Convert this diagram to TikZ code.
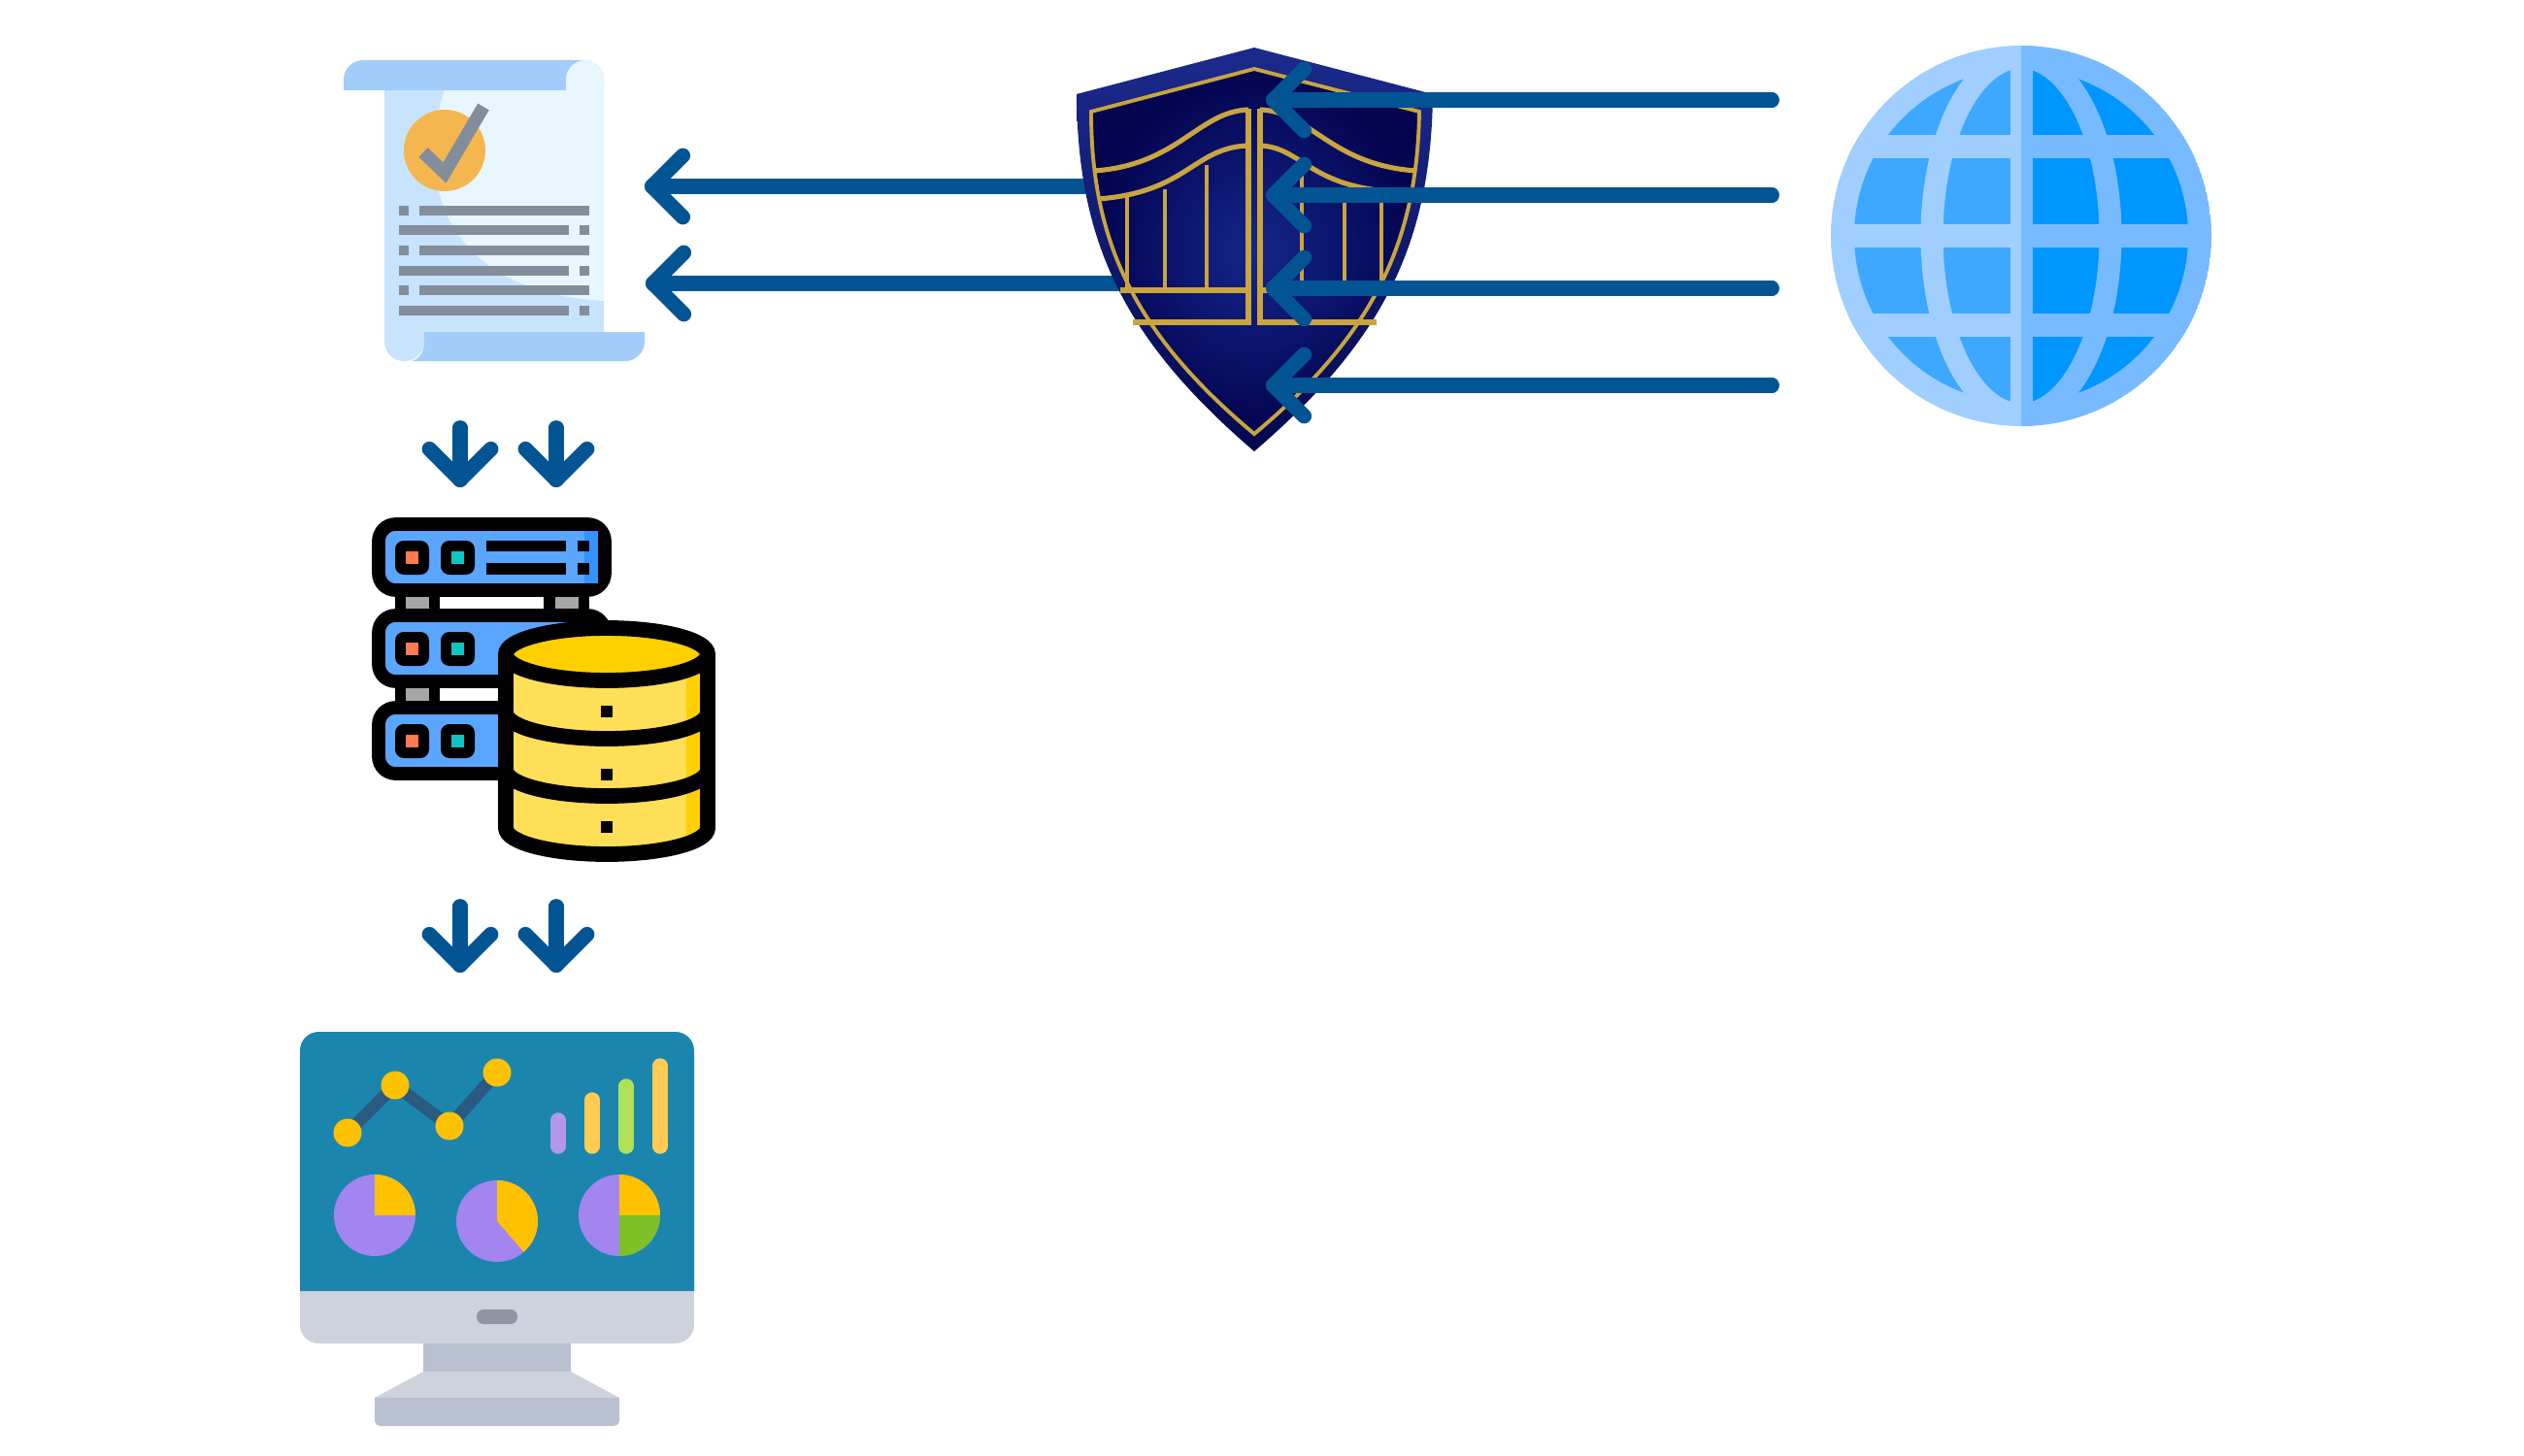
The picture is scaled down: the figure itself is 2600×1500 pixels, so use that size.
\documentclass[tikz,border=0pt]{standalone}
\usetikzlibrary{arrows.meta,calc}

\definecolor{FlowBlue}{HTML}{035493}
\definecolor{DocBand}{HTML}{A2CDFA}
\definecolor{DocBase}{HTML}{C7E3FD}
\definecolor{DocLight}{HTML}{E8F6FF}
\definecolor{DocGrey}{HTML}{838D9C}
\definecolor{DocSeal}{HTML}{F4B74F}
\definecolor{ShieldTop}{HTML}{1B2A8C}
\definecolor{ShieldEnd}{HTML}{05084F}
\definecolor{ShieldMid}{HTML}{14268A}
\definecolor{ShieldDark}{HTML}{03034F}
\definecolor{Gold}{HTML}{C9A53F}
\definecolor{GlobeLeft}{HTML}{A0CFFF}
\definecolor{GlobeRight}{HTML}{78BAFF}
\definecolor{CellLeft}{HTML}{3EA8FF}
\definecolor{CellRight}{HTML}{0096FF}
\definecolor{RackBlue}{HTML}{5AA5FF}
\definecolor{RackEdge}{HTML}{3592FF}
\definecolor{LedRed}{HTML}{FF7A50}
\definecolor{LedTeal}{HTML}{10C4C4}
\definecolor{DiskTop}{HTML}{FFD000}
\definecolor{DiskBody}{HTML}{FFDF58}
\definecolor{Screen}{HTML}{1B85AE}
\definecolor{Bezel}{HTML}{CED2DD}
\definecolor{Stand}{HTML}{B9C0CF}
\definecolor{Knob}{HTML}{8E96A6}
\definecolor{ChartLine}{HTML}{2A5A7F}
\definecolor{ChartYellow}{HTML}{FFC200}
\definecolor{ChartPurple}{HTML}{A385EF}
\definecolor{ChartGreen}{HTML}{7FBF28}
\definecolor{BarPurple}{HTML}{B497EA}
\definecolor{BarYellow}{HTML}{FFCB52}
\definecolor{BarGreen}{HTML}{AEE05A}

\tikzset{
    Flow/.style={draw=FlowBlue, line width=4.4pt, line cap=round,
        -{Straight Barb[length=9pt, width=18pt, line width=4.4pt, round]},
        postaction={draw=FlowBlue, -, shorten >=2.2pt}},
    GoldLine/.style={draw=Gold, line width=1.1pt},
    GoldPost/.style={draw=Gold, line width=1.45pt},
    Rack/.style={draw=black, fill=RackBlue, line width=3.9pt, rounded corners=5pt},
    Disk/.style={draw=black, line width=4.5pt},
    Band/.style={line width=6.55pt},
    Bar/.style={line width=4.4pt, line cap=round},
}

\begin{document}
\begin{tikzpicture}[x=0.01cm, y=-0.01cm]

    \useasboundingbox (0,0) rectangle (2600,1500);

    \coordinate (Gate1) at (1150,192);
    \coordinate (Gate2) at (1150,292);
    \coordinate (Doc1) at (664,192);
    \coordinate (Doc2) at (665,292);
    \coordinate (Web1) at (1825,103);
    \coordinate (Web2) at (1825,201);
    \coordinate (Web3) at (1825,297);
    \coordinate (Web4) at (1825,397);
    \coordinate (In1) at (1304,103);
    \coordinate (In2) at (1304,201);
    \coordinate (In3) at (1304,297);
    \coordinate (In4) at (1304,397);
    \coordinate (DocOut1) at (474,441);
    \coordinate (DocOut2) at (573,441);
    \coordinate (DbIn1) at (474,502);
    \coordinate (DbIn2) at (573,502);
    \coordinate (DbOut1) at (474,934);
    \coordinate (DbOut2) at (573,934);
    \coordinate (ScrIn1) at (474,1002);
    \coordinate (ScrIn2) at (573,1002);

    % document
    \fill[DocBase] (396,80) rectangle (622,345);
    \fill[DocLight] (458,93) .. controls (430,170) and (445,300) .. (622,310) -- (622,93) -- cycle;
    \fill[DocBand] (354,93) [rounded corners=5.7pt] -- (354,62) -- (622,62) [sharp corners] -- (622,93) -- cycle;
    \fill[DocLight] (583,93) [rounded corners=5.7pt] -- (583,62) -- (622,62) [sharp corners] -- (622,93) -- cycle;
    \fill[DocBase] (396,342) [rounded corners=5.7pt] -- (396,372) -- (437,372) [sharp corners] -- (437,342) -- cycle;
    \fill[DocBand] (437,342) -- (664,342) [rounded corners=5.7pt] -- (664,372) [sharp corners] -- (424,372) .. controls (432,370) and (437,362) .. (437,352) -- cycle;
    \fill[DocSeal] (458,155) circle (42);
    \draw[DocGrey, line width=3.8pt] (436,157) -- (458,178) -- (498,110);

    \fill[DocGrey] (411,212) rectangle (421,222);
    \fill[DocGrey] (432,212) rectangle (607,222);
    \fill[DocGrey] (411,232) rectangle (586,242);
    \fill[DocGrey] (597,232) rectangle (607,242);
    \fill[DocGrey] (411,253) rectangle (421,263);
    \fill[DocGrey] (432,253) rectangle (607,263);
    \fill[DocGrey] (411,274) rectangle (586,284);
    \fill[DocGrey] (597,274) rectangle (607,284);
    \fill[DocGrey] (411,294) rectangle (421,304);
    \fill[DocGrey] (432,294) rectangle (607,304);
    \fill[DocGrey] (411,315) rectangle (586,325);
    \fill[DocGrey] (597,315) rectangle (607,325);

    \draw[Flow] (Gate1) -- (Doc1);
    \draw[Flow] (Gate2) -- (Doc2);

    % shield
    \begin{scope}[xshift=-0.06cm]
        \path[top color=ShieldTop, bottom color=ShieldEnd] (1298,49) -- (1482,97) .. controls (1480,250) and (1432,350) .. (1298,465) .. controls (1164,350) and (1116,250) .. (1115,97) -- cycle;
        \path[inner color=ShieldMid, outer color=ShieldDark] (1298,71) -- (1468,115) .. controls (1466,250) and (1420,345) .. (1298,447) .. controls (1176,345) and (1130,250) .. (1130,115) -- cycle;
        \draw[GoldLine] (1298,71) -- (1468,115) .. controls (1466,250) and (1420,345) .. (1298,447) .. controls (1176,345) and (1130,250) .. (1130,115) -- cycle;

        \draw[GoldPost] (1292,112) -- (1292,332) -- (1173,332);
        \draw[GoldPost] (1304,112) -- (1304,332) -- (1424,332);
        \draw[GoldPost] (1160,299) -- (1292,299);
        \draw[GoldPost] (1304,299) -- (1440,299);
        \draw[GoldPost] (1133,176) .. controls (1220,170) and (1240,115) .. (1292,113);
        \draw[GoldPost] (1304,113) .. controls (1356,115) and (1376,170) .. (1465,176);
        \draw[GoldPost] (1137,205) .. controls (1230,198) and (1235,152) .. (1292,150);
        \draw[GoldPost] (1304,150) .. controls (1350,152) and (1355,198) .. (1461,198);
        \draw[GoldLine] (1167,203) -- (1167,299);
        \draw[GoldLine] (1206,195) -- (1206,299);
        \draw[GoldLine] (1249,170) -- (1249,299);
        \draw[GoldLine] (1347,170) -- (1347,299);
        \draw[GoldLine] (1391,197) -- (1391,299);
        \draw[GoldLine] (1429,198) -- (1429,299);
    \end{scope}

    \draw[Flow] (Web1) -- (In1);
    \draw[Flow] (Web2) -- (In2);
    \draw[Flow] (Web3) -- (In3);
    \draw[Flow] (Web4) -- (In4);

    % globe
    \begin{scope}
        \clip (2082,243) circle (196);
        \begin{scope}
            \clip (1880,30) rectangle (2082,460);
            \fill[GlobeLeft] (2082,243) circle (196);
            \fill[CellLeft] (2082,243) circle (172);
            \draw[GlobeLeft, Band] (2082,243) ellipse [x radius=92, y radius=184];
            \draw[GlobeLeft, Band] (1880,151) -- (2082,151);
            \draw[GlobeLeft, Band] (1880,243) -- (2082,243);
            \draw[GlobeLeft, Band] (1880,335) -- (2082,335);
            \draw[GlobeLeft, Band] (2082,40) -- (2082,450);
        \end{scope}
        \begin{scope}
            \clip (2082,30) rectangle (2290,460);
            \fill[GlobeRight] (2082,243) circle (196);
            \fill[CellRight] (2082,243) circle (172);
            \draw[GlobeRight, Band] (2082,243) ellipse [x radius=92, y radius=184];
            \draw[GlobeRight, Band] (2082,151) -- (2290,151);
            \draw[GlobeRight, Band] (2082,243) -- (2290,243);
            \draw[GlobeRight, Band] (2082,335) -- (2290,335);
            \draw[GlobeRight, Band] (2082,40) -- (2082,450);
        \end{scope}
    \end{scope}

    \draw[Flow] (DocOut1) -- (DbIn1);
    \draw[Flow] (DocOut2) -- (DbIn2);

    % server
    \fill[black] (407,615) rectangle (453,627);
    \fill[black] (560,615) rectangle (607,627);
    \fill[black] (407,708) rectangle (453,722);
    \fill[gray!70] (418,615) rectangle (442,627);
    \fill[gray!70] (572,615) rectangle (596,627);
    \fill[gray!70] (418,708) rectangle (442,722);

    \draw[Rack] (390,540) rectangle (623,608);
    \draw[Rack] (390,634) rectangle (623,702);
    \draw[Rack] (390,729) rectangle (623,797);
    \fill[RackEdge] (602,547) rectangle (616,601);

    \fill[black, rounded corners=2.5pt] (407,557) rectangle (442,592);
    \fill[black, rounded corners=2.5pt] (454,557) rectangle (489,592);
    \fill[LedRed] (418,568) rectangle (431,581);
    \fill[LedTeal] (465,568) rectangle (478,581);
    \fill[black] (501,557) rectangle (583,568);
    \fill[black] (501,580) rectangle (583,592);
    \fill[black] (595,557) rectangle (607,568);
    \fill[black] (595,580) rectangle (607,592);

    \fill[black, rounded corners=2.5pt] (407,651) rectangle (442,686);
    \fill[black, rounded corners=2.5pt] (454,651) rectangle (489,686);
    \fill[LedRed] (418,662) rectangle (431,675);
    \fill[LedTeal] (465,662) rectangle (478,675);

    \fill[black, rounded corners=2.5pt] (407,746) rectangle (442,781);
    \fill[black, rounded corners=2.5pt] (454,746) rectangle (489,781);
    \fill[LedRed] (418,757) rectangle (431,770);
    \fill[LedTeal] (465,757) rectangle (478,770);

    % disks
    \fill[DiskBody] (521,674) -- (521,853) arc[start angle=180, end angle=0, x radius=104, y radius=27] -- (729,674) -- cycle;
    \fill[DiskTop] (707,690) rectangle (729,862);
    \fill[DiskTop] (625,674) ellipse [x radius=104, y radius=27];
    \draw[Disk] (521,674) -- (521,853) arc[start angle=180, end angle=0, x radius=104, y radius=27] -- (729,674);
    \draw[Disk] (625,674) ellipse [x radius=104, y radius=27];
    \draw[Disk] (521,734) arc[start angle=180, end angle=0, x radius=104, y radius=27];
    \draw[Disk] (521,793) arc[start angle=180, end angle=0, x radius=104, y radius=27];
    \fill[black] (619,727) rectangle (631,739);
    \fill[black] (619,792) rectangle (631,804);
    \fill[black] (619,846) rectangle (631,858);

    \draw[Flow] (DbOut1) -- (ScrIn1);
    \draw[Flow] (DbOut2) -- (ScrIn2);

    % monitor
    \fill[Stand] (436,1380) rectangle (588,1413);
    \fill[Bezel] (436,1413) -- (588,1413) -- (638,1440) -- (386,1440) -- cycle;
    \fill[Stand] (386,1440) -- (638,1440) [rounded corners=1.5pt] -- (638,1469) -- (386,1469) [sharp corners] -- cycle;
    \fill[Bezel] (309,1328) [rounded corners=5.5pt] -- (309,1384) -- (715,1384) [sharp corners] -- (715,1328) -- cycle;
    \fill[Screen] (309,1330) [rounded corners=5.5pt] -- (309,1063) -- (715,1063) [sharp corners] -- (715,1330) -- cycle;
    \fill[Knob, rounded corners=2pt] (491,1349) rectangle (533,1364);

    \draw[ChartLine, line width=3.6pt] (358,1167) -- (407,1118) -- (463,1160) -- (512,1105);
    \fill[ChartYellow] (358,1167) circle (14.5);
    \fill[ChartYellow] (407,1118) circle (14.5);
    \fill[ChartYellow] (463,1160) circle (14.5);
    \fill[ChartYellow] (512,1105) circle (14.5);

    \draw[Bar, BarPurple] (575,1154) -- (575,1181);
    \draw[Bar, BarYellow] (610,1133) -- (610,1181);
    \draw[Bar, BarGreen] (645,1119) -- (645,1181);
    \draw[Bar, BarYellow] (680,1098) -- (680,1181);

    \fill[ChartPurple] (386,1252) circle (42);
    \fill[ChartYellow] (386,1252) -- ++(0,-42) arc[start angle=-90, end angle=0, radius=42] -- cycle;
    \fill[ChartPurple] (512,1258) circle (42);
    \fill[ChartYellow] (512,1258) -- ++(0,-42) arc[start angle=-90, end angle=49, radius=42] -- cycle;
    \fill[ChartPurple] (638,1252) circle (42);
    \fill[ChartYellow] (638,1252) -- ++(0,-42) arc[start angle=-90, end angle=0, radius=42] -- cycle;
    \fill[ChartGreen] (638,1252) -- ++(42,0) arc[start angle=0, end angle=90, radius=42] -- cycle;

\end{tikzpicture}
\end{document}
